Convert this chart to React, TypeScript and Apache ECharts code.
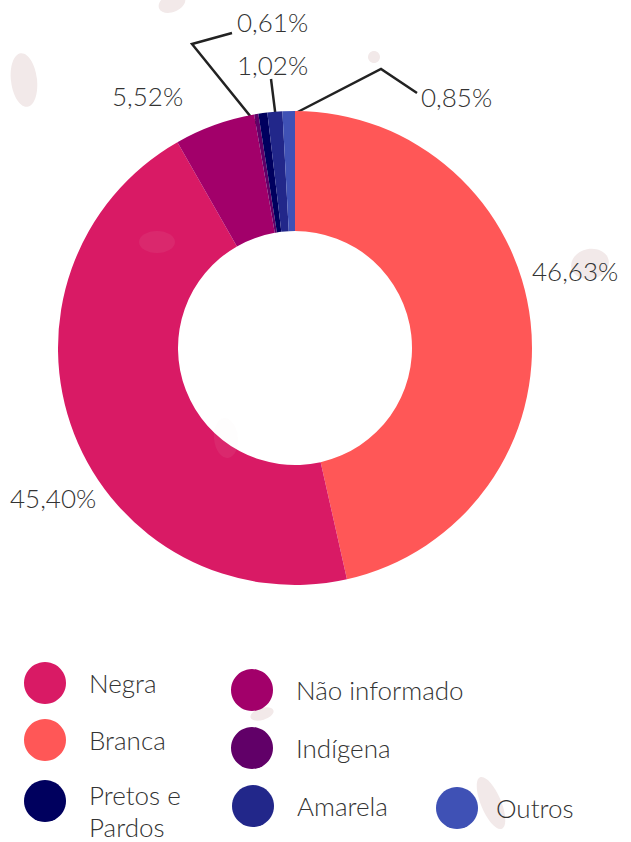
import React, { useEffect, useRef } from 'react';
import * as echarts from 'echarts';

// ---- data ----
const categories = ['Branca', 'Negra', 'Não informado', 'Indígena', 'Pretos e Pardos', 'Amarela', 'Outros'];
const values = [46.63, 45.40, 5.52, 0.29, 0.61, 1.02, 0.85];
const sliceColors = ['#FF5757', '#D91A65', '#A2006A', '#610068', '#00005E', '#22278A', '#3F51B5'];
const labelShown = [true, true, true, false, true, true, true];
const lineShown = [false, false, false, false, true, true, true];
const legendNames = ['Negra', 'Branca', 'Pretos e Pardos', 'Não informado', 'Indígena', 'Amarela', 'Outros'];

// ---- layout (positions, not data) ----
const labelLayoutMap: Record<number, { x: number; y: number; line?: number[][] }> = {
  0: { x: 532, y: 271 },
  1: { x: 10, y: 498 },
  2: { x: 112, y: 96 },
  4: { x: 237, y: 22, line: [[259, 127], [192, 44], [232, 33]] },
  5: { x: 237, y: 65, line: [[279, 143], [271, 79]] },
  6: { x: 421, y: 97, line: [[288, 117], [381, 69], [417, 93]] },
};
const legendPos: Record<string, { left: number; top: number; pad: number[] }> = {
  'Negra': { left: 24, top: 662, pad: [0, 0, 0, 18] },
  'Branca': { left: 24, top: 719, pad: [0, 0, 0, 18] },
  'Pretos e Pardos': { left: 24, top: 780, pad: [0, 0, 0, 18] },
  'Não informado': { left: 231, top: 669, pad: [0, 0, 0, 18] },
  'Indígena': { left: 231, top: 727, pad: [0, 0, 0, 18] },
  'Amarela': { left: 232, top: 785, pad: [0, 0, 0, 18] },
  'Outros': { left: 436, top: 787, pad: [0, 0, 0, 13] },
};
const blobs = [
  { x: 24, y: 80, rx: 13, ry: 27, r: 0.12 },
  { x: 172, y: 3, rx: 14, ry: 9, r: 0.4 },
  { x: 374, y: 57, rx: 6, ry: 6, r: 0 },
  { x: 590, y: 264, rx: 19, ry: 15, r: 0.2 },
  { x: 262, y: 714, rx: 12, ry: 6, r: 0.3 },
  { x: 491, y: 803, rx: 10, ry: 28, r: 0.4 },
];
const overBlobs = [
  { x: 157, y: 242, rx: 18, ry: 11, r: 0 },
  { x: 226, y: 438, rx: 12, ry: 20, r: 0.1 },
];

const FONT = 'Lato, "Open Sans", sans-serif';

export default function App() {
  const ref = useRef<HTMLDivElement>(null);
  useEffect(() => {
    if (!ref.current) return;
    const chart = echarts.init(ref.current, undefined, { renderer: 'svg' });
    const data = categories.map((name, i) => ({
      name,
      value: values[i],
      itemStyle: { color: sliceColors[i] },
      label: { show: labelShown[i] },
      labelLine: { show: lineShown[i] },
    }));
    const textBase = { fontFamily: FONT, fontWeight: 300, fontSize: 26, color: '#333333' };
    const legends = legendNames.map((name) => {
      const p = legendPos[name];
      return {
        data: [name],
        left: p.left,
        top: p.top,
        padding: 0,
        icon: 'circle',
        itemWidth: 42,
        itemHeight: 43,
        selectedMode: false,
        formatter: (n: string) => (n === 'Pretos e Pardos' ? '{l1|Pretos e}\n{l2|Pardos}' : n),
        textStyle: {
          ...textBase,
          padding: p.pad,
          rich: {
            l1: { ...textBase, lineHeight: 52 },
            l2: { ...textBase, lineHeight: 12 },
          },
        },
      };
    });
    const graphics: any[] = [];
    blobs.forEach((b) =>
      graphics.push({
        type: 'ellipse',
        x: b.x,
        y: b.y,
        rotation: b.r,
        z: -10,
        silent: true,
        shape: { cx: 0, cy: 0, rx: b.rx, ry: b.ry },
        style: { fill: '#F2E9E9' },
      })
    );
    overBlobs.forEach((b) =>
      graphics.push({
        type: 'ellipse',
        x: b.x,
        y: b.y,
        rotation: b.r,
        z: 100,
        silent: true,
        shape: { cx: 0, cy: 0, rx: b.rx, ry: b.ry },
        style: { fill: 'rgba(240,225,225,0.07)' },
      })
    );
    chart.setOption({
      animation: false,
      backgroundColor: '#ffffff',
      graphic: graphics,
      legend: legends,
      series: [
        {
          type: 'pie',
          center: [295, 348],
          radius: [117, 237],
          startAngle: 90,
          clockwise: true,
          avoidLabelOverlap: false,
          data,
          label: {
            position: 'outside',
            ...textBase,
            formatter: (p: any) => p.value.toFixed(2).replace('.', ',') + '%',
          },
          labelLine: {
            lineStyle: { color: '#222222', width: 2.5 },
          },
          labelLayout: (params: any) => {
            const p = labelLayoutMap[params.dataIndex];
            if (!p) return {};
            const out: any = { x: p.x, y: p.y, align: 'left', verticalAlign: 'middle' };
            if (p.line) out.labelLinePoints = p.line;
            return out;
          },
          emphasis: { disabled: true },
        },
      ],
    });
    return () => chart.dispose();
  }, []);
  return <div ref={ref} style={{ width: 631, height: 842, position: 'absolute', left: 0, top: 0 }} />;
}
